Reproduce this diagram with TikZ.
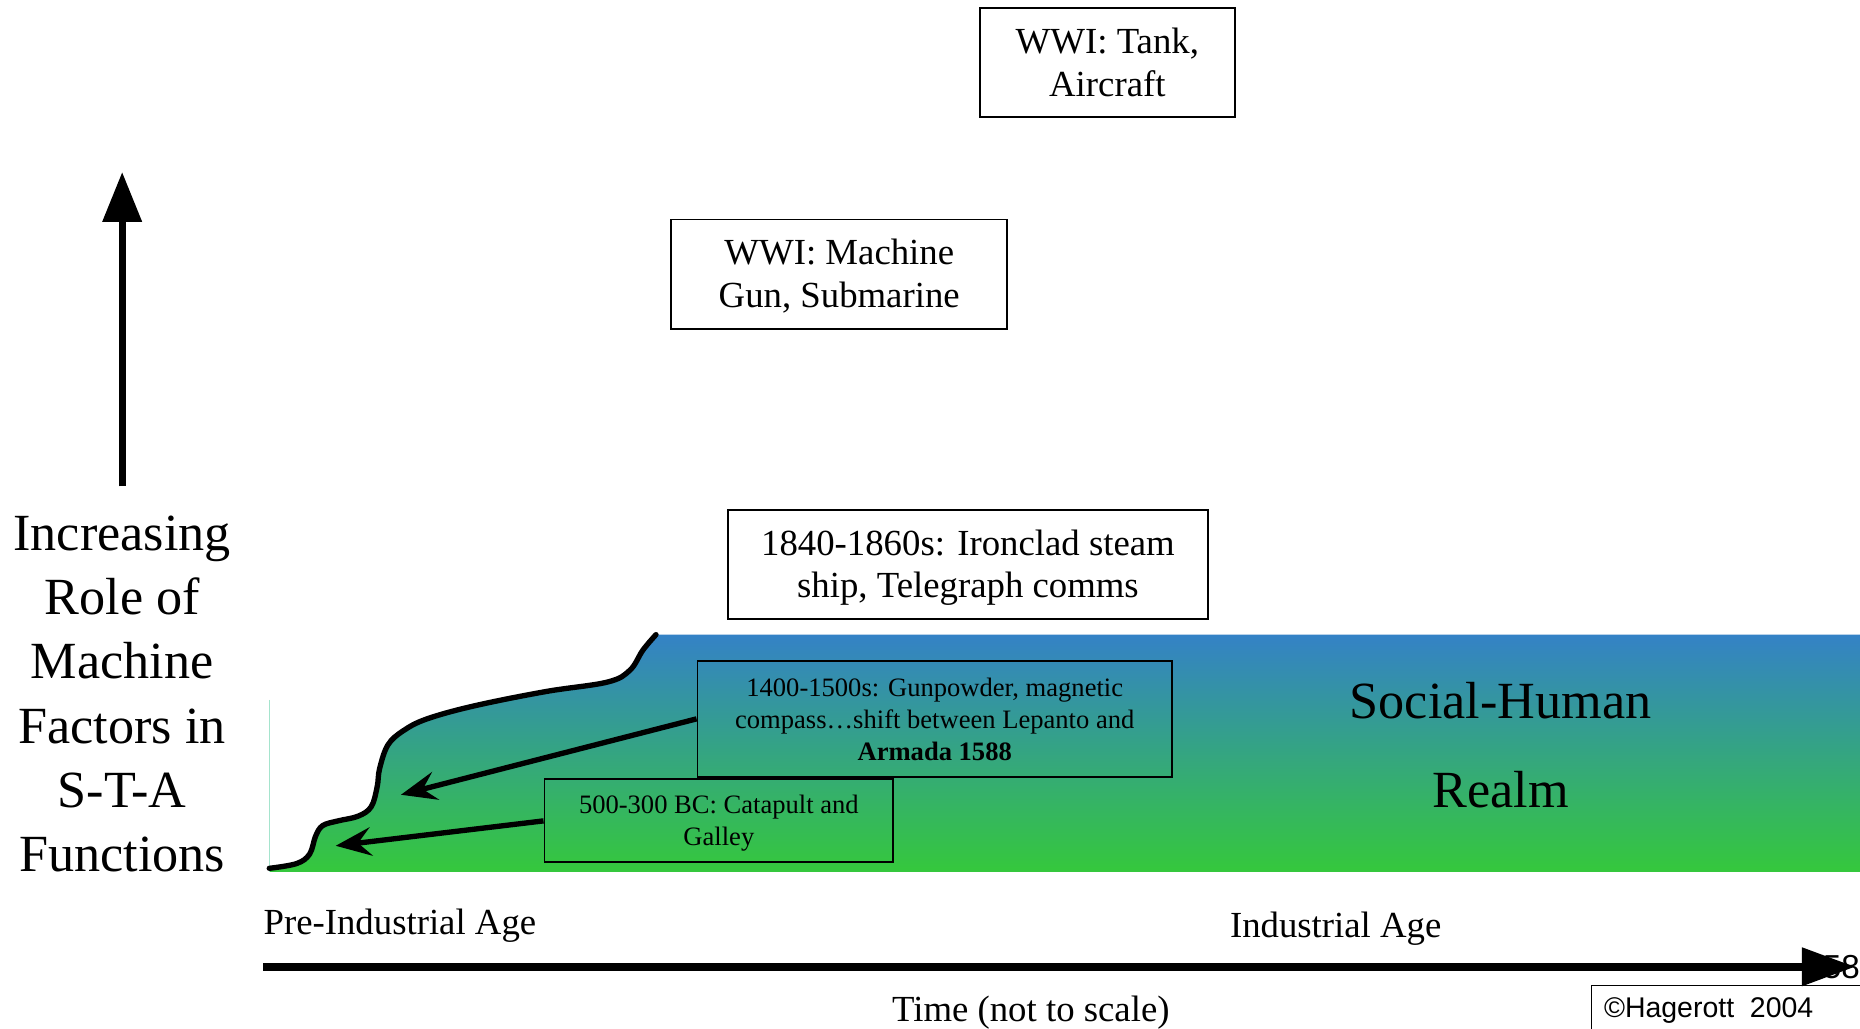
\documentclass[tikz,border=0pt]{standalone}
\usepackage{fontspec}
\setmainfont{Liberation Serif}
\newfontfamily\arialf{Liberation Sans}
\usetikzlibrary{arrows.meta}
\definecolor{gtop}{RGB}{52,130,198}
\definecolor{gbot}{RGB}{53,200,60}
\definecolor{gedge}{RGB}{165,228,205}
\begin{document}
\begin{tikzpicture}[x=1pt,y=-1pt,
  frame/.style={draw, line width=1.6pt, inner sep=0pt},
  bigtxt/.style={inner sep=0pt, align=center, font=\fontsize{31}{36}\selectfont},
  smalltxt/.style={inner sep=0pt, align=center, font=\fontsize{22.4}{27}\selectfont},
  ptr/.style={line width=4.5pt, -{Stealth[length=30pt,width=24pt,inset=11pt]}},
  lbl/.style={inner sep=0pt, font=\fontsize{31}{36}\selectfont},
  bigtext/.style={inner sep=0pt, align=center, font=\fontsize{44}{54}\selectfont}]
\clip (0,0) rectangle (1568,867);
\fill[white] (0,0) rectangle (1568,867);
% gradient realm
\shade[top color=gtop, bottom color=gbot] (227,735) -- plot[smooth,tension=0.6] coordinates {(227,732) (250,728) (261,720) (266,705) (272,696) (285,692) (302,688) (313,680) (318,663) (320,648) (327,628) (340,616) (360,606) (400,595) (460,583) (512,575) (531,565) (542,548) (553,535)} -- (1568,535) -- (1568,735) -- cycle;
\draw[gedge, line width=1pt] (227,590) -- (227,735);
\draw[line width=4.5pt, line cap=round] plot[smooth,tension=0.6] coordinates {(227,732) (250,728) (261,720) (266,705) (272,696) (285,692) (302,688) (313,680) (318,663) (320,648) (327,628) (340,616) (360,606) (400,595) (460,583) (512,575) (531,565) (542,548) (553,535)};
% vertical arrow and label
\coordinate (vb) at (103,410);
\coordinate (vt) at (103,145);
\draw[line width=6pt, -{Triangle[length=42pt,width=32pt]}] (vb) -- (vt);
\node[bigtext] (ylab) at (103,585) {Increasing\\Role of\\Machine\\Factors in\\S-T-A\\Functions};
% boxes
\node[frame, minimum width=215pt, minimum height=92pt] (tank) at (933.5,53) {};
\node[bigtxt] (tanktxt) at (933.5,52.5) {WWI: Tank,\\Aircraft};
\node[frame, minimum width=283pt, minimum height=92pt] (mg) at (707.5,231) {};
\node[bigtxt] (mgtxt) at (707.5,233) {WWI: Machine\\Gun, Submarine};
\node[frame, minimum width=404pt, minimum height=92pt] (iron) at (816,476) {};
\node[bigtxt] (irontxt) at (816,478.5) {1840-1860s: Ironclad steam\\ship, Telegraph comms};
\node[frame, minimum width=400pt, minimum height=98pt] (gun) at (788,606) {};
\node[smalltxt] (guntxt) at (788,606.5) {1400-1500s: Gunpowder, magnetic\\compass…shift between Lepanto and\\\textbf{Armada 1588}};
\node[frame, minimum width=294pt, minimum height=70pt] (cat) at (606,692) {};
\node[smalltxt] (cattxt) at (606,694) {500-300 BC: Catapult and\\Galley};
% pointers
\coordinate (t1) at (338,670);
\coordinate (t2) at (283,713);
\draw[ptr] (gun.west) -- (t1);
\draw[ptr] (cat.west) -- (t2);
% realm text
\node[inner sep=0pt, align=center, font=\fontsize{44}{75}\selectfont] (realm) at (1265,628.5) {Social-Human\\Realm};
% ages
\node[lbl, anchor=west] (pre) at (222,780) {Pre-Industrial Age};
\node[lbl] (ind) at (1126,782.5) {Industrial Age};
% time axis
\coordinate (ha) at (222,815);
\coordinate (hb) at (1564,815);
\draw[line width=6.5pt, -{Triangle[length=45pt,width=31pt]}] (ha) -- (hb);
\node[inner sep=0pt, anchor=east, font=\arialf\fontsize{28}{32}\selectfont] (n58) at (1568,815) {58};
\node[lbl] (time) at (869,854) {Time (not to scale)};
% copyright
\node[draw, line width=1.2pt, anchor=north west, minimum width=260pt, minimum height=70pt, inner sep=0pt] (copy) at (1341,830) {};
\node[inner sep=0pt, anchor=west, font=\arialf\fontsize{24}{28}\selectfont] (copytxt) at (1352,852) {©Hagerott\ \ 2004};
\end{tikzpicture}
\end{document}
